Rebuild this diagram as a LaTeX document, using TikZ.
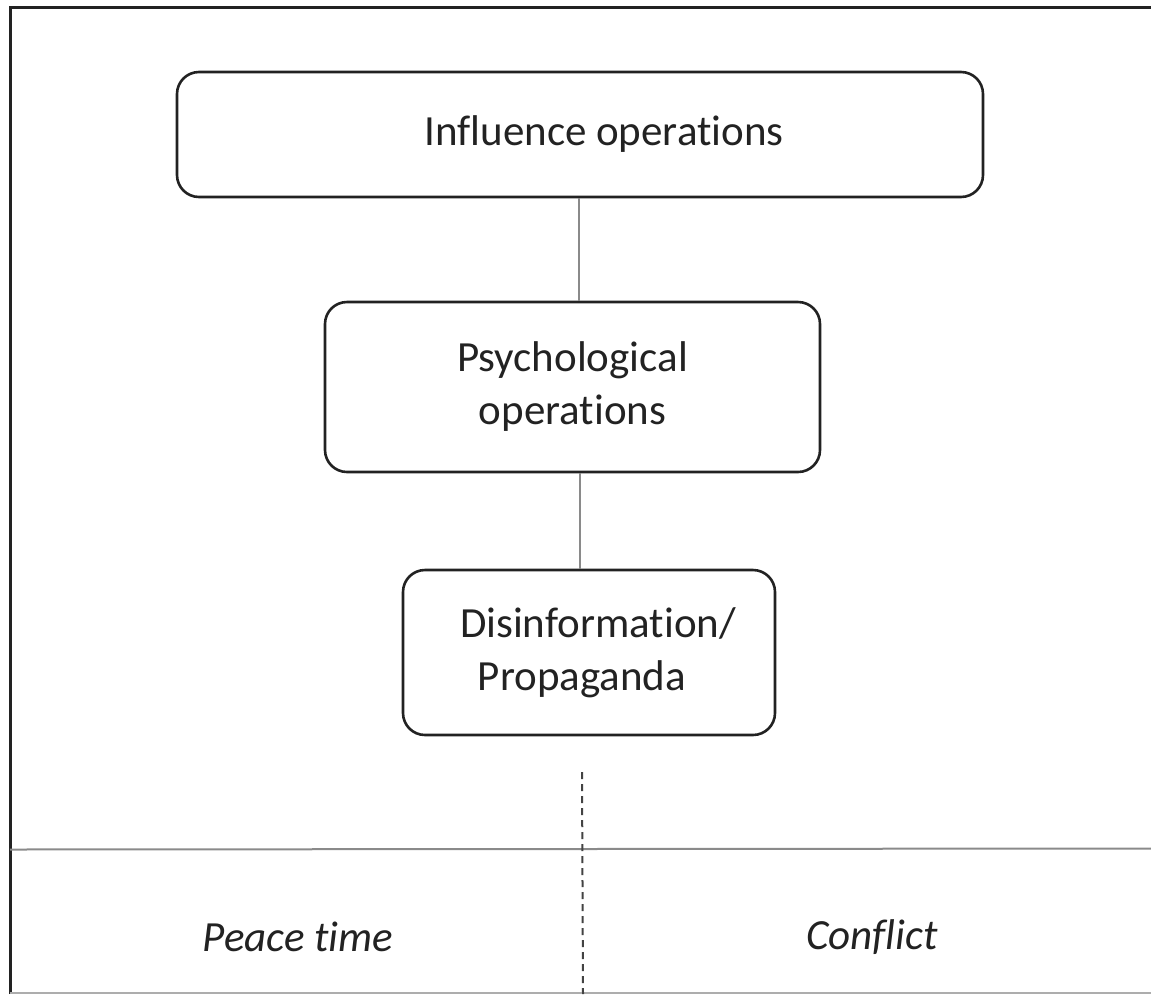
\documentclass[tikz,border=0pt]{standalone}
\usepackage{fontspec}
\setmainfont{Carlito}[Ligatures=NoCommon]
\definecolor{ink}{HTML}{222222}
\definecolor{rule}{HTML}{8A8A8A}
\begin{document}
\begin{tikzpicture}[x=1pt,y=-1pt,
  box/.style={draw=ink,line width=2.6pt,rounded corners=22pt,rectangle,
    align=center,text=ink,inner sep=0pt,font=\fontsize{43}{53}\selectfont},
  conn/.style={draw=rule,line width=1.5pt},
  lbl/.style={text=ink,inner sep=0pt,font=\fontsize{43}{53}\selectfont\itshape},
  frame/.style={draw=ink,line width=3pt}]
\useasboundingbox (0,0) rectangle (1151,994);
% frame
\draw[frame] (10,994) -- (10,7) -- (1151,7);
\draw[draw=rule!70,line width=1.5pt] (10,993) -- (1151,993);
\draw[draw=rule,line width=2pt] (10,849.5) -- (1151,848.5);
% boxes
\node[box,minimum width=806pt,minimum height=125pt] (b1) at (580,134.5) {\hspace*{48pt}\raisebox{-3pt}{Influence operations}};
\node[box,minimum width=495pt,minimum height=170pt] (b2) at (572.5,387) {Psychological\\operations};
\node[box,minimum width=372pt,minimum height=165pt] (b3) at (589,652.5) {\hspace*{18pt}Disinformation/\\Propaganda\hspace*{14pt}};
% connectors
\draw[conn] (b1.south -| 579,0) -- (b2.north -| 579,0);
\draw[conn] (b2.south -| 580,0) -- (b3.north -| 580,0);
% dashed divider
\coordinate (d1) at (582,772);
\coordinate (d2) at (583,994);
\draw[draw=ink!85,line width=2pt,dash pattern=on 7pt off 5pt] (d1) -- (d2);
% labels
\node[lbl] (peace) at (298,937) {Peace time};
\node[lbl] (conflict) at (872,937) {Conflict};
\end{tikzpicture}
\end{document}
